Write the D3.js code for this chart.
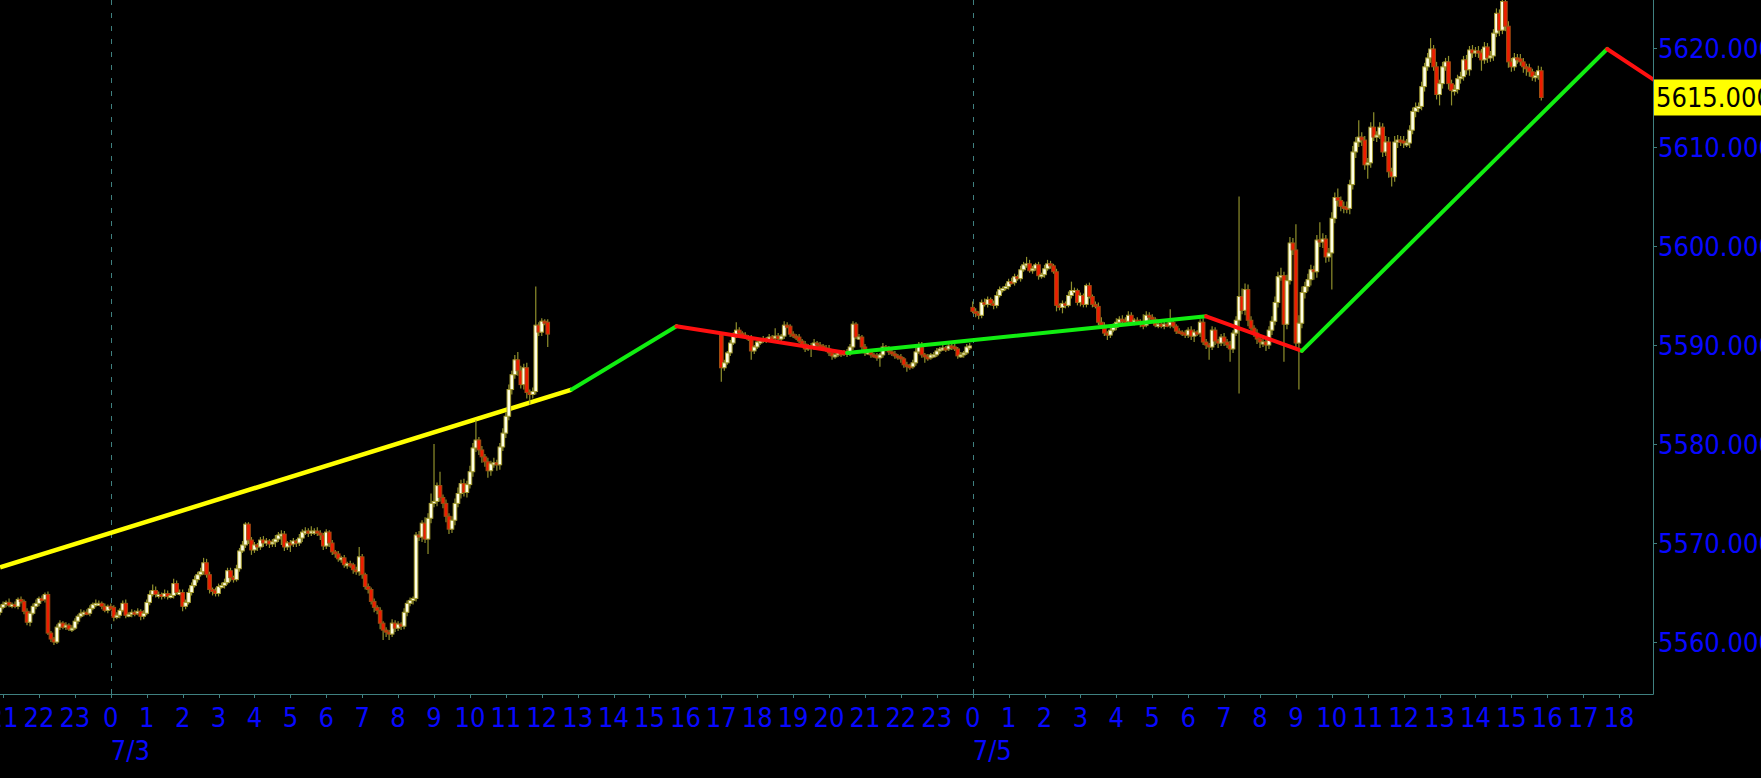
<!DOCTYPE html>
<html><head><meta charset="utf-8">
<script src="https://cdn.jsdelivr.net/npm/d3@7"></script>
<style>
html,body{margin:0;padding:0;background:#000;overflow:hidden}
svg{display:block}
</style></head><body>
<svg id="c" width="1761" height="778"></svg>
<script>
// ---------- DATA (5-minute bars; bar index 0 = 7/3 00:00) ----------
const segStarts = [-37, 204, 288];
const segOpens  = [5563.0, 5591.0, 5593.8];

const segAClose = [5563.5,
 5563.8,5564.0,5563.7,5563.8,5563.6,5564.3,5564.1,5563.1,5562.0,5562.9,5563.6,5563.9,
 5564.4,5564.3,5564.8,5560.9,5560.3,5560.0,5561.5,5561.9,5561.5,5561.7,5561.3,5561.4,
 5562.1,5562.6,5562.9,5563.0,5562.9,5563.4,5563.8,5563.9,5563.9,5563.6,5563.2,5563.6,
 5563.5,5562.5,5562.7,5563.2,5563.9,5562.7,5562.8,5563.0,5562.9,5563.1,5562.6,5562.9,
 5564.0,5564.8,5565.2,5564.8,5564.8,5564.6,5564.9,5564.6,5564.7,5565.9,5565.0,5565.0,
 5563.6,5564.0,5565.0,5565.7,5566.3,5566.8,5567.1,5568.0,5566.8,5565.3,5565.2,5564.9,
 5565.6,5565.7,5566.0,5567.2,5566.5,5566.3,5567.4,5569.2,5569.8,5571.9,5570.3,5569.3,
 5569.8,5569.6,5570.3,5570.0,5570.2,5569.9,5570.1,5570.4,5570.8,5570.9,5569.6,5570.0,
 5569.9,5570.2,5570.0,5570.5,5571.1,5571.2,5571.0,5571.2,5571.2,5571.0,5570.8,5569.7,
 5571.1,5570.0,5569.1,5568.9,5568.4,5568.5,5567.8,5567.9,5567.8,5567.3,5567.1,5568.6,
 5566.8,5565.6,5565.3,5564.1,5563.5,5563.2,5561.9,5561.2,5561.0,5560.8,5561.9,5561.4,
 5561.8,5561.6,5563.0,5563.9,5564.2,5564.4,5570.8,5570.6,5572.0,5570.4,5572.5,5574.0,
 5574.2,5575.8,5574.6,5574.0,5572.7,5571.4,5572.3,5574.0,5575.0,5576.0,5575.1,5575.9,
 5577.2,5579.6,5580.4,5579.4,5578.7,5578.2,5577.3,5578.0,5578.1,5577.9,5579.7,5581.1,
 5582.8,5585.5,5587.0,5588.5,5587.4,5586.0,5587.7,5585.2,5585.0,5585.3,5592.0,5591.3,
 5592.4,5592.3,5591.1];
const segAUp = [0.3,
 0.3,0.2,0.4,0.2,0.3,0.2,0.3,0.2,0.3,0.2,0.3,0.4,
 0.2,0.3,0.2,0.3,0.2,0.2,0.3,0.3,0.2,0.3,0.2,0.3,
 0.3,0.2,0.4,0.2,0.3,0.3,0.2,0.4,0.3,0.2,0.3,0.2,
 0.3,0.2,0.3,0.2,0.3,0.4,0.2,0.3,0.2,0.3,0.2,0.3,
 0.3,0.4,0.6,0.4,0.3,0.2,0.4,0.3,0.2,0.5,0.3,0.3,
 0.3,0.3,0.4,0.3,0.4,0.3,0.4,0.5,0.4,0.3,0.2,0.3,
 0.3,0.3,0.4,0.3,0.3,0.2,0.4,0.3,0.4,0.2,0.2,0.3,
 0.3,0.2,0.3,0.4,0.3,0.2,0.3,0.4,0.3,0.4,0.3,0.2,
 0.3,0.3,0.2,0.4,0.3,0.4,0.3,0.5,0.3,0.4,0.3,0.2,
 0.3,0.2,0.3,0.2,0.3,0.2,0.3,0.2,0.3,0.2,0.3,1.0,
 0.3,0.2,0.3,0.2,0.3,0.2,0.3,0.2,0.3,0.2,0.4,0.3,
 0.3,0.2,0.4,0.3,0.3,0.2,0.3,0.4,0.3,0.6,0.5,1.0,
 5.8,0.3,1.4,0.3,0.4,0.3,0.4,0.5,0.6,0.4,0.5,0.4,
 0.6,0.5,2.0,0.3,0.4,0.3,0.4,0.3,0.5,0.3,0.4,0.5,
 0.4,0.5,0.4,0.5,0.8,0.5,0.4,0.5,0.3,0.4,3.9,0.3,
 0.3,0.2,0.3];
const segADn = [0.3,
 0.2,0.3,0.2,0.3,0.2,0.3,0.2,0.3,0.3,0.4,0.2,0.3,
 0.3,0.2,0.3,0.2,0.3,0.3,0.2,0.3,0.2,0.3,0.2,0.3,
 0.2,0.3,0.2,0.3,0.2,0.3,0.2,0.3,0.2,0.3,0.2,0.3,
 0.3,0.4,0.2,0.3,0.2,0.3,0.2,0.3,0.3,0.2,0.4,0.3,
 0.2,0.3,0.2,0.3,0.4,0.3,0.2,0.3,0.2,0.3,0.2,0.3,
 0.5,0.3,0.2,0.3,0.2,0.3,0.2,0.3,0.3,0.4,0.5,0.3,
 0.3,0.2,0.3,0.2,0.4,0.3,0.2,0.3,0.2,0.3,0.4,0.5,
 0.3,0.4,0.3,0.4,0.3,0.4,0.3,0.5,0.3,1.0,0.4,0.3,
 0.8,0.3,0.4,0.3,0.4,0.3,0.4,0.3,0.4,0.3,0.5,0.4,
 0.3,0.4,0.3,0.4,0.3,0.4,0.3,0.4,0.3,0.4,0.3,0.4,
 0.4,0.3,0.4,0.3,0.5,0.4,0.6,1.0,0.5,0.6,0.3,0.4,
 0.3,0.4,0.3,0.4,0.3,0.4,0.3,0.4,0.5,0.4,1.5,0.5,
 0.4,0.5,0.4,0.5,0.6,0.5,0.4,0.5,0.4,0.5,0.4,0.5,
 0.4,0.5,0.4,0.5,0.6,0.5,0.7,0.5,0.4,0.6,0.5,0.4,
 0.5,0.4,0.5,0.4,0.5,0.4,0.5,0.6,1.0,0.4,0.3,0.4,
 0.4,0.3,1.3];

const segBClose = [
 5587.7,5588.2,5589.2,5590.2,5591.0,5591.5,5591.2,5591.0,5590.8,5590.7,5589.4,5589.8,
 5590.3,5590.4,5590.6,5590.5,5590.8,5590.7,5590.9,5590.6,5590.9,5592.0,5591.9,5591.1,
 5590.9,5590.8,5590.4,5590.1,5589.6,5589.9,5589.8,5590.2,5590.0,5589.9,5589.7,5589.6,
 5589.2,5588.9,5589.0,5589.2,5589.1,5589.3,5589.1,5589.8,5592.1,5590.8,5590.8,5589.8,
 5589.2,5589.3,5589.0,5588.9,5588.7,5589.0,5589.8,5589.6,5589.3,5589.1,5588.9,5588.8,
 5588.6,5588.0,5587.9,5587.8,5588.2,5589.3,5590.0,5589.0,5588.8,5588.7,5589.0,5589.0,
 5589.4,5589.6,5589.7,5589.6,5589.9,5589.8,5589.6,5588.9,5589.0,5589.2,5589.8,5589.9];
const segBUp = [
 0.2,0.3,0.2,0.3,0.3,0.8,0.3,0.2,0.3,0.2,0.3,0.2,
 0.3,0.2,0.3,0.2,0.3,0.2,0.8,0.3,0.2,0.4,0.3,0.2,
 0.3,0.2,0.3,0.2,0.3,0.2,0.3,0.4,0.2,0.3,0.2,0.3,
 0.4,0.2,0.3,0.2,0.3,0.2,0.3,0.3,0.3,0.2,0.3,0.2,
 0.3,0.2,0.3,0.2,0.3,0.2,0.4,0.2,0.3,0.2,0.3,0.2,
 0.3,0.2,0.3,0.2,0.3,0.4,0.3,0.3,0.2,0.3,0.2,0.3,
 0.3,0.2,0.3,0.2,0.3,0.2,0.3,0.2,0.3,0.2,0.3,0.3];
const segBDn = [
 1.4,0.3,0.2,0.3,0.2,0.3,0.2,0.3,0.2,0.3,0.9,0.3,
 0.2,0.3,0.2,0.3,0.2,0.3,0.2,0.3,0.2,0.3,0.2,0.3,
 0.2,0.3,0.2,0.3,0.3,0.2,1.0,0.3,0.2,0.3,0.2,0.3,
 0.3,0.4,0.3,0.2,0.3,0.2,0.3,0.2,0.3,0.2,0.3,0.3,
 0.3,0.2,0.3,0.2,0.3,0.9,0.3,0.2,0.3,0.2,0.3,0.3,
 0.4,0.3,0.6,0.3,0.2,0.3,0.2,0.3,0.6,0.3,0.2,0.3,
 0.2,0.3,0.2,0.3,0.2,0.3,0.2,0.3,0.2,0.3,0.2,0.3];

const segCClose = [
 5593.4,5593.2,5593.0,5594.3,5594.1,5594.6,5594.2,5594.0,5595.0,5595.6,5595.7,5595.9,
 5596.4,5596.3,5596.9,5596.7,5597.6,5598.1,5598.2,5597.5,5597.7,5598.1,5597.0,5597.1,
 5597.7,5598.2,5598.0,5597.4,5594.0,5593.8,5594.2,5594.0,5595.0,5595.5,5595.5,5594.3,
 5595.0,5594.1,5596.0,5594.9,5594.1,5593.9,5592.3,5592.0,5591.2,5591.0,5591.5,5591.8,
 5592.3,5592.6,5592.5,5592.4,5593.0,5592.3,5592.5,5592.4,5592.1,5592.0,5593.0,5592.8,
 5592.6,5592.0,5592.1,5591.9,5592.1,5592.0,5592.3,5591.9,5591.4,5591.3,5591.2,5591.0,
 5591.5,5590.9,5591.3,5591.2,5592.3,5590.3,5590.0,5589.8,5591.5,5590.4,5590.2,5590.8,
 5590.3,5590.0,5589.6,5591.2,5592.5,5594.9,5593.5,5595.6,5592.5,5591.7,5591.2,5590.6,
 5590.3,5590.3,5590.0,5591.5,5592.4,5594.3,5596.9,5597.0,5592.1,5596.5,5600.3,5599.6,
 5590.2,5592.2,5595.3,5595.9,5596.6,5597.6,5597.4,5600.6,5600.4,5600.7,5598.9,5599.3,
 5602.8,5604.9,5604.6,5604.0,5603.9,5603.8,5606.2,5609.5,5610.5,5611.0,5610.7,5608.2,
 5608.4,5612.0,5611.0,5611.2,5612.0,5609.5,5610.5,5607.5,5607.0,5610.5,5610.7,5610.6,
 5610.4,5610.4,5611.7,5613.6,5614.0,5614.1,5616.1,5618.1,5619.0,5619.9,5618.1,5615.3,
 5616.4,5618.1,5618.6,5616.4,5615.7,5615.8,5616.9,5617.1,5618.8,5617.8,5619.8,5619.5,
 5619.7,5619.5,5618.8,5620.1,5619.0,5619.2,5621.5,5623.5,5621.8,5624.7,5622.2,5618.6,
 5618.1,5619.0,5618.9,5618.6,5618.1,5618.0,5617.6,5617.1,5617.2,5617.7,5615.0];
const segCUp = [
 0.6,0.3,0.2,0.3,0.4,0.3,0.2,0.3,0.4,0.3,0.2,0.3,
 0.3,0.4,0.3,0.2,0.4,0.3,0.7,0.4,0.3,0.2,0.3,0.2,
 0.4,0.4,0.3,0.2,0.3,0.2,0.3,0.2,0.4,0.9,0.3,0.2,
 0.3,0.2,0.2,0.3,0.2,0.3,0.4,0.5,0.3,0.2,0.3,0.4,
 0.4,0.3,0.4,0.3,0.4,0.3,0.2,0.3,0.2,1.0,0.4,0.3,
 0.3,0.2,0.3,0.2,0.3,0.2,1.3,0.3,0.2,0.3,0.2,0.3,
 0.3,0.4,0.3,0.2,0.3,0.4,0.3,0.2,0.4,0.3,0.2,0.3,
 0.4,0.3,0.4,0.3,0.4,10.1,0.8,0.6,0.5,0.4,0.3,0.4,
 0.3,0.4,0.3,0.4,0.5,0.6,0.5,0.8,0.4,0.6,0.6,0.5,
 2.6,0.8,0.6,0.5,0.6,0.5,0.4,0.5,1.8,0.6,0.4,0.5,
 0.6,0.5,0.9,0.4,0.5,0.6,0.5,0.6,0.5,1.7,0.5,0.4,
 0.5,0.5,1.5,0.4,0.5,0.4,0.6,0.5,0.4,0.6,0.5,0.4,
 0.5,0.4,0.5,0.4,0.5,0.4,0.5,0.4,0.5,1.1,0.4,0.5,
 0.4,0.5,0.4,0.6,0.4,0.5,0.4,0.5,0.4,0.5,0.4,0.5,
 0.4,0.5,0.4,0.5,0.4,0.5,0.4,0.5,0.4,0.3,0.4,0.5,
 0.4,0.5,0.4,0.5,0.4,0.3,0.4,0.3,0.4,0.5,0.4];
const segCDn = [
 0.2,0.4,0.4,0.3,0.2,0.3,0.2,0.4,0.3,0.2,0.3,0.2,
 0.3,0.2,0.3,0.2,0.3,0.2,0.3,0.2,0.3,0.2,0.4,0.3,
 0.3,0.2,0.3,0.2,0.6,0.3,0.6,0.3,0.2,0.3,0.2,0.3,
 0.4,0.3,0.3,0.2,0.3,0.2,0.3,0.2,0.3,0.5,0.3,0.2,
 0.3,0.2,0.3,0.2,0.3,0.2,0.3,0.2,0.3,0.4,0.2,0.3,
 0.3,0.2,0.3,0.2,0.3,0.2,0.3,0.2,0.3,0.2,0.3,0.3,
 0.3,0.4,0.6,0.3,0.4,0.3,0.4,1.3,0.3,0.4,0.5,0.3,
 0.4,0.3,1.3,0.4,0.3,7.4,0.4,0.5,0.6,0.5,0.4,0.5,
 0.6,0.5,0.6,0.4,0.5,0.4,0.5,0.4,3.8,0.5,0.4,0.5,
 0.4,4.7,0.5,0.6,0.5,0.6,0.8,0.6,0.5,0.6,0.6,0.5,
 3.7,0.5,0.6,0.5,0.6,0.5,0.6,0.5,0.6,0.5,0.6,0.5,
 1.4,0.5,0.4,0.5,0.4,0.5,0.4,0.6,1.0,0.5,0.6,0.5,
 0.5,0.4,0.5,0.4,0.6,0.5,0.4,0.5,0.4,0.5,0.4,0.5,
 1.1,0.5,0.4,0.6,1.5,0.5,0.4,0.5,0.4,0.5,0.6,0.5,
 0.4,0.5,1.1,0.4,0.5,0.4,0.5,0.4,0.6,0.4,0.5,0.6,
 0.5,0.4,0.5,0.4,0.6,0.8,0.5,0.4,0.5,0.4,0.3];

// trend line (yellow) and zigzag vertices [barIndex, price]
const trendLine = [[-37, 5567.55], [154, 5585.5]];
const zigzag = [[154, 5585.5], [189, 5591.9], [246, 5589.2], [366, 5592.9], [398, 5589.4], [500, 5619.9], [515.5, 5616.8]];

// axis labels
const hourTicks = [21,22,23,0,1,2,3,4,5,6,7,8,9,10,11,12,13,14,15,16,17,18,19,20,21,22,23,0,1,2,3,4,5,6,7,8,9,10,11,12,13,14,15,16,17,18];
const firstTickBar = -36;
const dateLabels = [{bar: 0, text: "7/3"}, {bar: 288, text: "7/5"}];
const priceTicks = [5560, 5570, 5580, 5590, 5600, 5610, 5620];

// ---------- BUILD ----------
const segCloses = [segAClose, segBClose, segCClose];
const segUps = [segAUp, segBUp, segCUp];
const segDns = [segADn, segBDn, segCDn];
const bars = [];
segCloses.forEach((cl, s) => {
  cl.forEach((c, i) => {
    const o = i === 0 ? segOpens[s] : cl[i - 1];
    bars.push({b: segStarts[s] + i, o, c,
      h: Math.max(o, c) + segUps[s][i], l: Math.min(o, c) - segDns[s][i]});
  });
});
const lastClose = segCClose[segCClose.length - 1];

const W = 1761, H = 778;
const plotR = 1653, plotB = 694;
const x = d3.scaleLinear().domain([0, 288]).range([110.8, 972.7]);
const y = d3.scaleLinear().domain([5560, 5620]).range([642, 48]);

const svg = d3.select("#c");
svg.append("rect").attr("width", W).attr("height", H).attr("fill", "#000");
svg.append("defs").append("clipPath").attr("id", "plot")
  .append("rect").attr("x", 0).attr("y", 0).attr("width", plotR).attr("height", plotB);

const axisCol = "#3f8080";
const textCol = "#0808ff";
const font = "'DejaVu Sans Condensed', 'DejaVu Sans', sans-serif";
const fs = 27;

const g = svg.append("g").attr("clip-path", "url(#plot)");

// day separators
g.selectAll("line.day").data(dateLabels).join("line")
  .attr("x1", d => Math.round(x(d.bar)) + 0.5).attr("x2", d => Math.round(x(d.bar)) + 0.5)
  .attr("y1", 0).attr("y2", plotB)
  .attr("stroke", axisCol).attr("stroke-width", 1).attr("stroke-dasharray", "5,8");

// trend line
const line = d3.line().x(d => x(d[0])).y(d => y(d[1]));
g.append("path").attr("d", line(trendLine)).attr("fill", "none")
  .attr("stroke", "#ffff00").attr("stroke-width", 4.5);

// candles
const bodyW = 3.6;
const cg = g.append("g");
cg.selectAll("line.wick").data(bars).join("line")
  .attr("x1", d => x(d.b)).attr("x2", d => x(d.b))
  .attr("y1", d => y(d.h)).attr("y2", d => y(d.l))
  .attr("stroke", "#8f8f2c").attr("stroke-width", 1.2);
cg.selectAll("rect.body").data(bars).join("rect")
  .attr("x", d => x(d.b) - bodyW / 2)
  .attr("y", d => y(Math.max(d.o, d.c)))
  .attr("width", bodyW)
  .attr("height", d => Math.max(2, Math.abs(y(d.o) - y(d.c))))
  .attr("fill", d => d.c >= d.o ? "#ffffe6" : "#ee1c00")
  .attr("stroke", d => d.c >= d.o ? "#a59c30" : "#a24e12")
  .attr("stroke-width", 1);

// zigzag
const zz = d3.pairs(zigzag);
g.selectAll("line.zz").data(zz).join("line")
  .attr("x1", d => x(d[0][0])).attr("y1", d => y(d[0][1]))
  .attr("x2", d => x(d[1][0])).attr("y2", d => y(d[1][1]))
  .attr("stroke", d => d[1][1] > d[0][1] ? "#11ee11" : "#ff1010")
  .attr("stroke-width", 4).attr("stroke-linecap", "round");

// axes frame
svg.append("line").attr("x1", 0).attr("x2", plotR + 0.5).attr("y1", plotB + 0.5).attr("y2", plotB + 0.5)
  .attr("stroke", axisCol).attr("stroke-width", 1);
svg.append("line").attr("x1", plotR + 0.5).attr("x2", plotR + 0.5).attr("y1", 0).attr("y2", plotB + 0.5)
  .attr("stroke", axisCol).attr("stroke-width", 1);

// x ticks + labels
const xt = hourTicks.map((h, k) => ({h, b: firstTickBar + 12 * k}));
svg.selectAll("line.xt").data(xt).join("line")
  .attr("x1", d => Math.round(x(d.b)) + 0.5).attr("x2", d => Math.round(x(d.b)) + 0.5)
  .attr("y1", plotB + 1).attr("y2", plotB + 4).attr("stroke", axisCol);
svg.selectAll("text.xl").data(xt).join("text")
  .attr("x", d => x(d.b)).attr("y", 727)
  .attr("text-anchor", "middle").attr("fill", textCol)
  .attr("font-family", font).attr("font-stretch", "condensed").attr("font-size", fs)
  .text(d => d.h);
svg.selectAll("text.dl").data(dateLabels).join("text")
  .attr("x", d => x(d.bar)).attr("y", 760)
  .attr("text-anchor", "start").attr("fill", textCol)
  .attr("font-family", font).attr("font-stretch", "condensed").attr("font-size", fs)
  .text(d => d.text);

// y ticks + labels
svg.selectAll("line.yt").data(priceTicks).join("line")
  .attr("x1", plotR + 1).attr("x2", plotR + 4)
  .attr("y1", d => Math.round(y(d)) + 0.5).attr("y2", d => Math.round(y(d)) + 0.5)
  .attr("stroke", axisCol);
svg.selectAll("text.yl").data(priceTicks).join("text")
  .attr("x", 1658).attr("y", d => y(d) + 9.8)
  .attr("fill", textCol).attr("font-family", font).attr("font-stretch", "condensed").attr("font-size", fs)
  .text(d => d3.format(".3f")(d));

// current price label
const ly = y(lastClose);
svg.append("rect").attr("x", plotR + 1).attr("y", ly - 18).attr("width", W - plotR).attr("height", 36)
  .attr("fill", "#ffff00");
svg.append("text").attr("x", 1656).attr("y", ly + 9.8)
  .attr("fill", "#000").attr("font-family", font).attr("font-stretch", "condensed").attr("font-size", fs)
  .text(d3.format(".3f")(lastClose));
</script>
</body></html>
